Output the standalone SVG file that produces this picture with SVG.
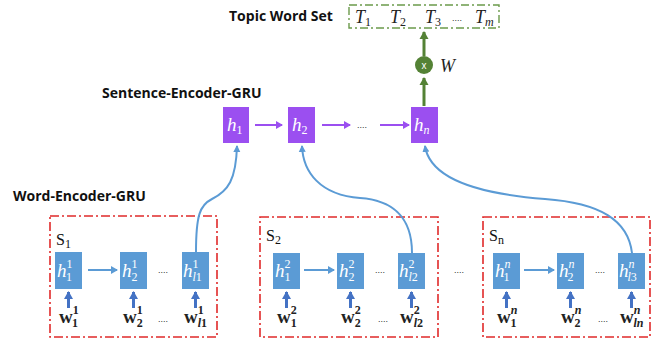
<svg xmlns="http://www.w3.org/2000/svg" width="652" height="343" viewBox="0 0 652 343">
<defs>
<style>
.lbl{font-family:"Open Sans","Liberation Sans",sans-serif;font-weight:bold;font-size:14px;fill:#111}
.wb{fill:#5B9BD5}
.pb{fill:#9B4FF0}
.ht{font-family:"Liberation Serif",serif;font-style:italic;font-size:19px;fill:#fff}
.sm{font-size:12px}
.wt{font-family:"Liberation Serif",serif;font-weight:bold;font-size:19px;fill:#222}
.wsm{font-family:"Liberation Serif",serif;font-weight:bold;font-size:12px}
.wsi{font-family:"Liberation Serif",serif;font-style:italic;font-weight:bold;font-size:12px}
.dots{font-family:"Liberation Sans",sans-serif;font-size:9px;fill:#333}
.st{font-family:"Liberation Serif",serif;font-size:16px;fill:#111}
.tt{font-family:"Liberation Serif",serif;font-style:italic;font-size:18px;fill:#222}
.red{fill:none;stroke:#E02A2A;stroke-width:1.6;stroke-dasharray:9 3 2 3}
.grn{fill:none;stroke:#6B9A4B;stroke-width:1.4;stroke-dasharray:8 3 2 3}
.harr{stroke:#5B9BD5;stroke-width:2;fill:none;marker-end:url(#ab)}
.parr{stroke:#9B4FF0;stroke-width:2;fill:none;marker-end:url(#ap)}
.warr{stroke:#4472C4;stroke-width:3;fill:none;marker-end:url(#aw)}
.curve{stroke:#5B9BD5;stroke-width:2;fill:none;marker-end:url(#ac)}
.garr{stroke:#548235;stroke-width:3;fill:none;marker-end:url(#ag)}
</style>
<marker id="ab" markerWidth="8" markerHeight="8" refX="6" refY="4" orient="auto" markerUnits="userSpaceOnUse"><path d="M0,0 L7,4 L0,8 Z" fill="#5B9BD5"/></marker>
<marker id="ap" markerWidth="8" markerHeight="8" refX="6" refY="4" orient="auto" markerUnits="userSpaceOnUse"><path d="M0,0 L7,4 L0,8 Z" fill="#9B4FF0"/></marker>
<marker id="aw" markerWidth="10" markerHeight="10" refX="7" refY="5" orient="auto" markerUnits="userSpaceOnUse"><path d="M0,0.5 L8,5 L0,9.5 Z" fill="#4472C4"/></marker>
<marker id="ac" markerWidth="8" markerHeight="8" refX="6" refY="4" orient="auto" markerUnits="userSpaceOnUse"><path d="M0,0.5 L7,4 L0,7.5 Z" fill="#5B9BD5"/></marker>
<marker id="ag" markerWidth="10" markerHeight="10" refX="7" refY="5" orient="auto" markerUnits="userSpaceOnUse"><path d="M0,0.5 L8,5 L0,9.5 Z" fill="#548235"/></marker>
</defs>
<rect width="652" height="343" fill="#fff"/>

<!-- labels -->
<text class="lbl" x="229" y="21">Topic Word Set</text>
<text class="lbl" x="102" y="98">Sentence-Encoder-GRU</text>
<text class="lbl" x="13" y="201">Word-Encoder-GRU</text>

<!-- topic word set -->
<g id="topic-set">
<rect class="grn" x="349" y="5" width="150" height="23"/>
<text class="tt" x="355" y="23">T<tspan class="sm" dy="3" font-style="normal">1</tspan></text>
<text class="tt" x="390" y="23">T<tspan class="sm" dy="3" font-style="normal">2</tspan></text>
<text class="tt" x="425" y="23">T<tspan class="sm" dy="3" font-style="normal">3</tspan></text>
<text class="dots" x="452" y="21">....</text>
<text class="tt" x="475" y="23">T<tspan class="sm" dy="3">m</tspan></text>
</g>

<g id="multiply">
<circle cx="424" cy="65" r="9" fill="#548235"/>
<text x="424" y="69" text-anchor="middle" font-family="Liberation Sans,sans-serif" font-size="10" fill="#fff">x</text>
<text class="tt" x="440" y="72">W</text>
</g>

<!-- sentence encoder -->
<g id="s-h1"><rect class="pb" x="223" y="107" width="26" height="36"/><text class="ht" x="227" y="131">h<tspan class="sm" dy="3" font-style="normal">1</tspan></text></g>
<g id="s-h2"><rect class="pb" x="288" y="107" width="27" height="36"/><text class="ht" x="292" y="131">h<tspan class="sm" dy="3" font-style="normal">2</tspan></text></g>
<g id="s-dots"><text class="dots" x="357" y="128">....</text></g>
<g id="s-hn"><rect class="pb" x="411" y="107" width="27" height="36"/><text class="ht" x="414" y="131">h<tspan class="sm" dy="3">n</tspan></text></g>

<!-- sentence S1 -->
<g id="S1">
<rect class="red" x="50" y="216" width="167" height="121"/>
<text class="st" x="56" y="245">S<tspan class="sm" dy="3">1</tspan></text>
<rect class="wb" x="55" y="252" width="27" height="37"/>
<text class="ht" x="57" y="277">h<tspan class="sm" font-style="normal" dy="-9">1</tspan><tspan class="sm" font-style="normal" dx="-6" dy="13">1</tspan></text>
<rect class="wb" x="120" y="252" width="27" height="37"/>
<text class="ht" x="122" y="277">h<tspan class="sm" font-style="normal" dy="-9">1</tspan><tspan class="sm" font-style="normal" dx="-6" dy="13">2</tspan></text>
<text class="dots" x="158" y="273">....</text>
<rect class="wb" x="182" y="252" width="27" height="37"/>
<text class="ht" x="183" y="277">h<tspan class="sm" font-style="normal" dy="-9">1</tspan><tspan class="sm" dx="-6" dy="13">l</tspan><tspan class="sm" font-style="normal">1</tspan></text>
<text class="wt" x="59" y="323">w<tspan class="wsm" dy="-9">1</tspan><tspan class="wsm" dx="-6" dy="13">1</tspan></text>
<text class="wt" x="123" y="323">w<tspan class="wsm" dy="-9">1</tspan><tspan class="wsm" dx="-6" dy="13">2</tspan></text>
<text class="dots" x="158" y="322">....</text>
<text class="wt" x="184" y="323">w<tspan class="wsm" dy="-9">1</tspan><tspan class="wsi" dx="-6" dy="13">l</tspan><tspan class="wsm">1</tspan></text>
</g>

<!-- sentence S2 -->
<g id="S2">
<rect class="red" x="260" y="217" width="178" height="120"/>
<text class="st" x="266" y="241">S<tspan class="sm" dy="3">2</tspan></text>
<rect class="wb" x="273" y="253" width="27" height="36"/>
<text class="ht" x="275" y="277">h<tspan class="sm" font-style="normal" dy="-9">2</tspan><tspan class="sm" font-style="normal" dx="-6" dy="13">1</tspan></text>
<rect class="wb" x="337" y="253" width="27" height="36"/>
<text class="ht" x="339" y="277">h<tspan class="sm" font-style="normal" dy="-9">2</tspan><tspan class="sm" font-style="normal" dx="-6" dy="13">2</tspan></text>
<text class="dots" x="375" y="273">....</text>
<rect class="wb" x="398" y="253" width="27" height="36"/>
<text class="ht" x="399" y="277">h<tspan class="sm" font-style="normal" dy="-9">2</tspan><tspan class="sm" dx="-6" dy="13">l</tspan><tspan class="sm" font-style="normal">2</tspan></text>
<text class="wt" x="277" y="323">w<tspan class="wsm" dy="-9">2</tspan><tspan class="wsm" dx="-6" dy="13">1</tspan></text>
<text class="wt" x="341" y="323">w<tspan class="wsm" dy="-9">2</tspan><tspan class="wsm" dx="-6" dy="13">2</tspan></text>
<text class="dots" x="378" y="322">....</text>
<text class="wt" x="400" y="323">w<tspan class="wsm" dy="-9">2</tspan><tspan class="wsi" dx="-6" dy="13">l</tspan><tspan class="wsm">2</tspan></text>
</g>

<g id="between-dots"><text class="dots" x="454" y="273">....</text></g>

<!-- sentence Sn -->
<g id="Sn">
<rect class="red" x="483" y="217" width="167" height="120"/>
<text class="st" x="489" y="241">S<tspan class="sm" dy="3">n</tspan></text>
<rect class="wb" x="493" y="253" width="27" height="36"/>
<text class="ht" x="495" y="277">h<tspan class="sm" dy="-9">n</tspan><tspan class="sm" font-style="normal" dx="-7" dy="13">1</tspan></text>
<rect class="wb" x="557" y="253" width="27" height="36"/>
<text class="ht" x="559" y="277">h<tspan class="sm" dy="-9">n</tspan><tspan class="sm" font-style="normal" dx="-7" dy="13">2</tspan></text>
<text class="dots" x="595" y="273">....</text>
<rect class="wb" x="618" y="253" width="27" height="36"/>
<text class="ht" x="619" y="277">h<tspan class="sm" dy="-9">n</tspan><tspan class="sm" dx="-7" dy="13">l</tspan><tspan class="sm" font-style="normal">3</tspan></text>
<text class="wt" x="497" y="323">w<tspan class="wsi" dy="-9">n</tspan><tspan class="wsm" dx="-7" dy="13">1</tspan></text>
<text class="wt" x="561" y="323">w<tspan class="wsi" dy="-9">n</tspan><tspan class="wsm" dx="-7" dy="13">2</tspan></text>
<text class="dots" x="598" y="322">....</text>
<text class="wt" x="620" y="323">w<tspan class="wsi" dy="-9">n</tspan><tspan class="wsi" dx="-7" dy="13">ln</tspan></text>
</g>

<!-- connectors -->
<g id="connectors">
<line class="garr" x1="424" y1="106" x2="424" y2="78"/>
<line class="garr" x1="424" y1="56" x2="424" y2="32"/>
<line class="parr" x1="255" y1="125" x2="282" y2="125"/>
<line class="parr" x1="322" y1="125" x2="350" y2="125"/>
<line class="parr" x1="380" y1="125" x2="409" y2="125"/>
<line class="harr" x1="88" y1="270" x2="117" y2="270"/>
<line class="harr" x1="304" y1="270" x2="334" y2="270"/>
<line class="harr" x1="524" y1="270" x2="554" y2="270"/>
<line class="warr" x1="68.5" y1="308" x2="68.5" y2="292"/>
<line class="warr" x1="133.5" y1="308" x2="133.5" y2="292"/>
<line class="warr" x1="195.5" y1="308" x2="195.5" y2="292"/>
<line class="warr" x1="286.5" y1="308" x2="286.5" y2="292"/>
<line class="warr" x1="350.5" y1="308" x2="350.5" y2="292"/>
<line class="warr" x1="411.5" y1="308" x2="411.5" y2="292"/>
<line class="warr" x1="506.5" y1="308" x2="506.5" y2="292"/>
<line class="warr" x1="570.5" y1="308" x2="570.5" y2="292"/>
<line class="warr" x1="631.5" y1="308" x2="631.5" y2="292"/>
<path class="curve" d="M196,252 C196,215 200,205 212,199 C228,191 236,180 237,146"/>
<path class="curve" d="M412,253 C412,215 390,200 360,198 C320,195 303,172 302,146"/>
<path class="curve" d="M632,253 C628,220 600,203 545,199 C480,194 430,180 425,146"/>
</g>
</svg>
